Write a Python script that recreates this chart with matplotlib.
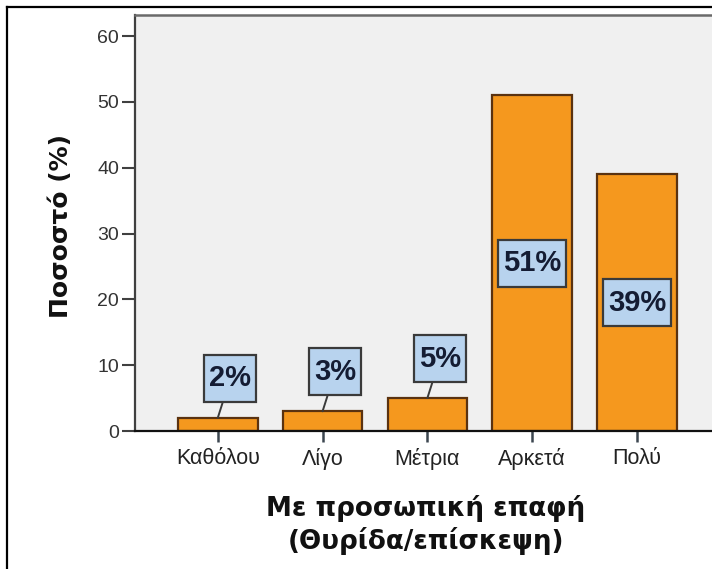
import matplotlib
matplotlib.use("Agg")
import matplotlib.pyplot as plt
from matplotlib.lines import Line2D
from matplotlib.path import Path

categories = ["Καθόλου", "Λίγο", "Μέτρια", "Αρκετά", "Πολύ"]
values = [2, 3, 5, 51, 39]
labels = ["2%", "3%", "5%", "51%", "39%"]
yticks = [0, 10, 20, 30, 40, 50, 60]

W, H = 712, 569
fig = plt.figure(figsize=(W / 100, H / 100), dpi=100)
fig.patch.set_facecolor("white")

ax = fig.add_axes([135 / W, 1 - 431 / H, 1 - 135 / W, (431 - 15) / H])
ax.set_facecolor("#f0f0f0")

x = list(range(len(categories)))
ax.bar(x, values, width=0.76, color="#f5981e", edgecolor="#5a3210", linewidth=1.6, zorder=2)

ax.set_xlim(-0.79, 4.716)
ax.set_ylim(0, 63.2)
ax.set_yticks(yticks)
ax.set_yticklabels([str(t) for t in yticks], fontsize=14, family="Liberation Sans", color="#333333")
ax.set_xticks(x)
ax.set_xticklabels(categories, fontsize=15.5, family="Liberation Sans", color="#222222")
ax.tick_params(axis="y", length=9.4, width=1.5, color="#404040", pad=2)
ax.tick_params(axis="x", length=8, width=1.8, color="#3c4650", pad=4)

ax.spines["left"].set_color("#404040")
ax.spines["left"].set_linewidth(1.6)
ax.spines["top"].set_color("#6a6a6a")
ax.spines["top"].set_linewidth(1.8)
ax.spines["bottom"].set_color("#111111")
ax.spines["bottom"].set_linewidth(1.6)
ax.spines["right"].set_visible(False)


def label_box(x0, y0, width, height, mutation_size):
    px = 0.17 * mutation_size
    py = 0.33 * mutation_size
    x0, y0 = x0 - px, y0 - py
    x1, y1 = x0 + width + 2 * px, y0 + height + 2 * py
    return Path([(x0, y0), (x1, y0), (x1, y1), (x0, y1), (x0, y0)], closed=True)


bbox = dict(boxstyle=label_box, facecolor="#b8d3ee", edgecolor="#3a3a3a", linewidth=1.6)
for i, (v, lab) in enumerate(zip(values, labels)):
    if v < 10:
        ax.annotate(lab, xy=(i, v), xytext=(i + 0.12, v + 6.0),
                    ha="center", va="center", fontsize=21, fontweight="bold",
                    family="Liberation Sans", color="#141c33", bbox=bbox,
                    arrowprops=dict(arrowstyle="-", color="#3a3a3a", lw=1.4,
                                    shrinkA=0, shrinkB=0),
                    zorder=4)
    else:
        ax.text(i, v / 2, lab, ha="center", va="center", fontsize=21, fontweight="bold",
                family="Liberation Sans", color="#141c33", bbox=bbox, zorder=4)

fig.text(426 / W, 1 - 525 / H, "Με προσωπική επαφή\n(Θυρίδα/επίσκεψη)",
         ha="center", va="center", multialignment="center",
         fontsize=18.8, fontweight="bold", family="DejaVu Sans", color="#111111")
fig.text(61 / W, 1 - 226 / H, "Ποσοστό (%)", rotation=90,
         ha="center", va="center", fontsize=18, fontweight="bold",
         family="DejaVu Sans", color="#111111")

fig.add_artist(Line2D([6.5 / W, 6.5 / W], [0, 1 - 6.5 / H], color="black", lw=1.6,
                      transform=fig.transFigure))
fig.add_artist(Line2D([6.5 / W, 1], [1 - 6.5 / H, 1 - 6.5 / H], color="black", lw=1.6,
                      transform=fig.transFigure))

fig.savefig("out.png", dpi=100)
